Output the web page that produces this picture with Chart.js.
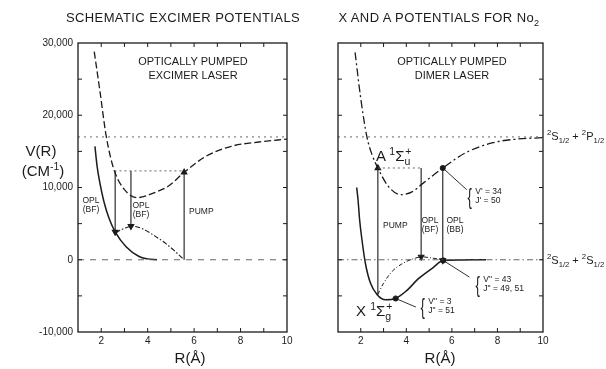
<!DOCTYPE html>
<html>
<head>
<meta charset="utf-8">
<script src="https://cdn.jsdelivr.net/npm/chart.js@4.4.1/dist/chart.umd.min.js"></script>
<style>
  html, body { margin: 0; padding: 0; background: #fff; }
  #wrap { position: relative; width: 606px; height: 369px; overflow: hidden;
          font-family: "Liberation Sans", Arial, sans-serif; color: #1b1b1b; }
  canvas { position: absolute; top: 0; }
  .t { position: absolute; white-space: nowrap; line-height: 1; }
  .c { transform: translateX(-50%); text-align: center; }
  .title { font-size: 13px; letter-spacing: 0.4px; top: 11px; }
  .big { font-size: 15px; }
  .note { font-size: 11px; }
  .small { font-size: 8.5px; line-height: 9px; }
  sup, sub { font-size: 70%; line-height: 0; }
  .brace { display: flex; align-items: center; font-size: 8.5px; line-height: 9px; }
  .brace b { font-weight: normal; font-size: 22px; margin-right: 2px; transform: scaleX(0.6); }
  .asym { font-size: 11px; }
</style>
</head>
<body>
<div id="wrap">
  <canvas id="left" width="300" height="369" style="left:0"></canvas>
  <canvas id="right" width="306" height="369" style="left:300px"></canvas>

  <div class="t title c" style="left:183px">SCHEMATIC EXCIMER POTENTIALS</div>
  <div class="t title c" style="left:439px">X AND A POTENTIALS FOR No<sub>2</sub></div>

  <div class="t big c" style="left:41px; top:143px">V(R)</div>
  <div class="t big c" style="left:43px; top:163px">(CM<sup>-1</sup>)</div>
  <div class="t big c" style="left:190px; top:350px">R(Å)</div>
  <div class="t big c" style="left:440px; top:350px">R(Å)</div>

  <div class="t note c" style="left:193px; top:56px">OPTICALLY PUMPED</div>
  <div class="t note c" style="left:193px; top:70px">EXCIMER LASER</div>
  <div class="t note c" style="left:452px; top:56px">OPTICALLY PUMPED</div>
  <div class="t note c" style="left:452px; top:70px">DIMER LASER</div>

  <div class="t small c" style="left:91px; top:196px">OPL<br>(BF)</div>
  <div class="t small c" style="left:141px; top:201px">OPL<br>(BF)</div>
  <div class="t small" style="left:189px; top:207px">PUMP</div>

  <div class="t small" style="left:383px; top:221px">PUMP</div>
  <div class="t small c" style="left:430px; top:216px">OPL<br>(BF)</div>
  <div class="t small c" style="left:455px; top:216px">OPL<br>(BB)</div>

  <div class="t big" style="left:376px; top:148px">A <sup>1</sup>Σ<sub>u</sub><sup style="margin-left:-5px">+</sup></div>
  <div class="t big" style="left:356px; top:303px">X <sup>1</sup>Σ<sub>g</sub><sup style="margin-left:-5px">+</sup></div>

  <div class="t brace" style="left:466px; top:187px"><b>{</b><span>V' = 34<br>J' = 50</span></div>
  <div class="t brace" style="left:474px; top:275px"><b>{</b><span>V" = 43<br>J" = 49, 51</span></div>
  <div class="t brace" style="left:419px; top:297px"><b>{</b><span>V" = 3<br>J" = 51</span></div>

  <div class="t asym" style="left:547px; top:131px"><sup>2</sup>S<sub>1/2</sub> + <sup>2</sup>P<sub>1/2</sub></div>
  <div class="t asym" style="left:547px; top:255px"><sup>2</sup>S<sub>1/2</sub> + <sup>2</sup>S<sub>1/2</sub></div>
</div>

<script>
const INK = '#1b1b1b';
const FONT = '"Liberation Sans", Arial, sans-serif';

// axes (both panels)
const rMin = 1, rMax = 10;
const vMin = -10000, vMax = 30000;

// left panel: schematic excimer
const excimerR = [1.7, 1.95, 2.2, 2.4, 2.6, 3.0, 3.55, 4.3, 4.9, 5.57, 6.5, 7.6, 8.8, 10];
const excimerV = [28800, 23200, 17400, 14200, 12000, 9700, 8600, 9300, 10200, 12100, 14300, 15700, 16300, 16700];
const groundR = [1.73, 1.82, 1.95, 2.12, 2.34, 2.62, 3.07, 3.63, 4.0, 4.4];
const groundV = [15700, 13000, 10500, 8000, 5700, 3750, 1800, 450, 120, 0];
const lowerR = [2.62, 3.0, 3.33, 3.8, 4.3, 4.8, 5.2, 5.57];
const lowerV = [3750, 4350, 4650, 4250, 3300, 2200, 1100, 0];
const leftLevel = 12300;
const leftLevelR = [2.57, 5.57];
const leftTransR = [2.6, 3.28, 5.57];
const leftTransFrom = [12300, 12300, 0];
const leftTransTo = [3850, 4650, 12100];

// right panel: Na2 X and A states
const stateAR = [1.75, 2.0, 2.27, 2.5, 2.75, 3.2, 3.75, 4.25, 4.7, 5.6, 6.6, 7.8, 8.85, 10];
const stateAV = [28700, 22300, 17000, 14500, 12700, 10200, 9000, 9400, 10500, 12700, 14800, 16200, 16700, 16900];
const stateXR = [1.82, 1.88, 1.95, 2.05, 2.2, 2.42, 2.72, 3.09, 3.53, 3.97, 4.56, 5.15, 5.62, 6.3, 7.5];
const stateXV = [10000, 8300, 5500, 2800, -450, -3200, -4850, -5550, -5350, -4400, -2550, -1150, -100, -20, 0];
const tripletR = [2.75, 3.0, 3.38, 3.82, 4.27, 4.68, 5.1, 5.6];
const tripletV = [-4800, -3250, -1600, -550, 100, 400, 250, 0];
const rightLevel = 12700;
const rightLevelR = [2.75, 4.65];
const rightTransR = [2.75, 4.65, 5.6];
const rightTransFrom = [-4850, 12700, 12700];
const rightTransTo = [12700, 400, -100];
// leader lines: [R at dot, V at dot, R at label, V at label]
const leaders = [
  [5.6, 12700, 6.65, 9700],
  [5.62, -100, 6.77, -2400],
  [3.53, -5360, 4.42, -6550]
];

// asymptotes
const asympUpperV = 17000;
const asympLowerV = 0;

function pts(xs, ys) { return xs.map((x, i) => ({ x, y: ys[i] })); }

function curve(xs, ys, extra) {
  return Object.assign({
    data: pts(xs, ys), showLine: true, borderColor: INK, borderWidth: 1.3,
    pointRadius: 0, cubicInterpolationMode: 'monotone', fill: false
  }, extra);
}

function hline(v, x0, x1, extra) {
  return curve([x0, x1], [v, v], Object.assign({ borderWidth: 0.9, borderColor: '#555' }, extra));
}

function arrows(rs, from, to) {
  return rs.map((r, i) => ({
    data: pts([r, r], [from[i], to[i]]), showLine: true, borderColor: INK, borderWidth: 1.1,
    tension: 0, pointRadius: [0, 3.2], pointStyle: 'triangle',
    pointRotation: to[i] > from[i] ? 0 : 180,
    pointBackgroundColor: INK, pointBorderColor: INK
  }));
}

const framePlugin = {
  id: 'frame',
  afterDatasetsDraw(chart) {
    const { ctx, chartArea: a, scales: { x, y } } = chart;
    ctx.save();
    ctx.strokeStyle = INK;
    ctx.lineWidth = 1.3;
    ctx.strokeRect(a.left, a.top, a.right - a.left, a.bottom - a.top);
    ctx.lineWidth = 1;
    ctx.beginPath();
    x.ticks.forEach(t => {
      const p = x.getPixelForValue(t.value);
      if (p <= a.left + 1 || p >= a.right - 1) return;
      ctx.moveTo(p, a.bottom); ctx.lineTo(p, a.bottom - 4);
      ctx.moveTo(p, a.top); ctx.lineTo(p, a.top + 4);
    });
    y.ticks.forEach(t => {
      const p = y.getPixelForValue(t.value);
      if (p <= a.top + 1 || p >= a.bottom - 1) return;
      ctx.moveTo(a.left, p); ctx.lineTo(a.left + 4, p);
      ctx.moveTo(a.right, p); ctx.lineTo(a.right - 4, p);
    });
    ctx.stroke();
    ctx.restore();
  }
};

function makePanel(id, datasets, opts) {
  new Chart(document.getElementById(id), {
    type: 'scatter',
    data: { datasets },
    options: {
      responsive: false,
      animation: false,
      events: [],
      layout: { padding: { top: 43, right: opts.padRight, left: 0, bottom: 0 } },
      plugins: { legend: { display: false }, tooltip: { enabled: false } },
      scales: {
        x: {
          type: 'linear', min: rMin, max: rMax,
          grid: { display: false, drawTicks: false },
          border: { display: false },
          ticks: {
            stepSize: 1, autoSkip: false, maxRotation: 0, padding: 3,
            color: INK, font: { family: FONT, size: 10 },
            callback: v => (v % 2 === 0 ? String(v) : '')
          },
          afterFit: s => { s.height = 37; }
        },
        y: {
          type: 'linear', min: vMin, max: vMax,
          grid: { display: false, drawTicks: false },
          border: { display: false },
          ticks: {
            stepSize: 5000, autoSkip: false, padding: 5,
            color: INK, font: { family: FONT, size: 10 },
            callback: v => (opts.yLabels && v % 10000 === 0 ? v.toLocaleString('en-US') : '')
          },
          afterFit: s => { s.width = opts.yWidth; }
        }
      }
    },
    plugins: [framePlugin]
  });
}

const leftSets = [
  hline(asympUpperV, rMin, rMax, { borderDash: [2, 4] }),
  hline(asympLowerV, rMin, rMax, { borderDash: [6, 6] }),
  hline(leftLevel, leftLevelR[0], leftLevelR[1], { borderDash: [2, 3] }),
  curve(excimerR, excimerV, { borderDash: [7, 3] }),
  curve(groundR, groundV, { borderWidth: 1.5 }),
  curve(lowerR, lowerV, { borderDash: [5, 2, 1.5, 2], borderWidth: 1.1 }),
  ...arrows(leftTransR, leftTransFrom, leftTransTo)
];

const rightSets = [
  hline(asympUpperV, rMin, rMax, { borderDash: [2, 4] }),
  hline(asympLowerV, rMin, rMax, { borderDash: [6, 3, 1.5, 3] }),
  hline(rightLevel, rightLevelR[0], rightLevelR[1], { borderDash: [2, 3] }),
  curve(stateAR, stateAV, { borderDash: [8, 3, 2, 3] }),
  curve(stateXR, stateXV, { borderWidth: 1.5 }),
  curve(tripletR, tripletV, { borderDash: [4, 2, 1, 2], borderWidth: 1.0 }),
  ...arrows(rightTransR, rightTransFrom, rightTransTo),
  ...leaders.map(l => ({
    data: pts([l[0], l[2]], [l[1], l[3]]), showLine: true, borderColor: INK, borderWidth: 0.9,
    tension: 0, pointRadius: [2.6, 0], pointBackgroundColor: INK, pointBorderColor: INK
  }))
];

makePanel('left', leftSets, { padRight: 13, yWidth: 78, yLabels: true });
makePanel('right', rightSets, { padRight: 63, yWidth: 38, yLabels: false });
</script>
</body>
</html>
